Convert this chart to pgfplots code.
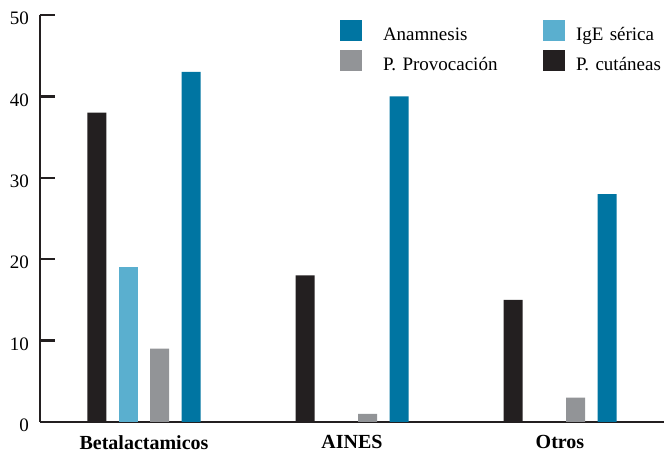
\documentclass[border=0pt]{standalone}
\usepackage{pgfplots}
\pgfplotsset{compat=1.18}
\usepackage{fontspec}
\setmainfont{Liberation Serif}
\definecolor{cblack}{HTML}{231F20}
\definecolor{clight}{HTML}{5AAFCF}
\definecolor{cgray}{HTML}{929497}
\definecolor{cblue}{HTML}{0075A2}
\definecolor{axcol}{HTML}{231F20}
\begin{document}
\begin{tikzpicture}
\begin{axis}[
  name=ax,
  scale only axis,
  width=624pt, height=407pt,
  xmin=-0.5, xmax=2.5, ymin=0, ymax=50,
  axis x line*=bottom, axis y line*=left,
  axis line style={line width=2.8pt, draw=axcol},
  tick align=inside,
  /pgf/number format/assume math mode=true,
  ytick={0,10,20,30,40,50},
  yticklabels={0,10,20,30,40,50},
  ytick style={line width=2.4pt, draw=axcol},
  major tick length=15pt,
  yticklabel style={inner sep=0pt, xshift=-11pt, yshift=-3.5pt, font=\fontsize{19}{22}\selectfont},
  xtick={0,1,2},
  xticklabels={Betalactamicos,AINES,Otros},
  xtick style={draw=none},
  xticklabel style={inner sep=0pt, yshift=-13pt, font=\fontsize{20}{22}\selectfont\bfseries},
  extra x ticks={0.5,1.5},
  extra x tick style={major tick length=9pt, tick style={draw=axcol, line width=1.6pt}, xticklabel style={opacity=0}},
  legend columns=2,
  legend image code/.code={\fill[#1] (0pt,0pt) rectangle (22pt,21pt);},
  legend style={draw=none, fill=none, at={(axis description cs:0.48077,0.98771)}, anchor=north west,
    inner sep=0pt, outer sep=0pt, row sep=9pt,
    font=\fontsize{19}{22}\selectfont,
    nodes={inner sep=0pt, text depth=0pt, anchor=base west, text width=160pt, align=left},
    /tikz/column 1/.style={column sep=21pt},
    /tikz/column 2/.style={column sep=0pt},
    /tikz/column 3/.style={column sep=11pt}},
]
\addplot[ybar, bar width=19pt, bar shift=47pt, fill=cblue, draw=none] coordinates {(0,43) (1,40) (2,28)};
\addlegendentry{Anamnesis}
\addplot[ybar, bar width=19pt, bar shift=-15.5pt, fill=clight, draw=none] coordinates {(0,19)};
\addlegendentry{IgE sérica}
\addplot[ybar, bar width=19pt, bar shift=15.5pt, fill=cgray, draw=none] coordinates {(0,9) (1,1) (2,3)};
\addlegendentry{P. Provocación}
\addplot[ybar, bar width=19pt, bar shift=-47pt, fill=cblack, draw=none] coordinates {(0,38) (1,18) (2,15)};
\addlegendentry{P. cutáneas}
\end{axis}
\pgfresetboundingbox
\path[use as bounding box] ([xshift=-40pt,yshift=-30pt]ax.south west) rectangle ([yshift=15pt]ax.north east);
\end{tikzpicture}
\end{document}
